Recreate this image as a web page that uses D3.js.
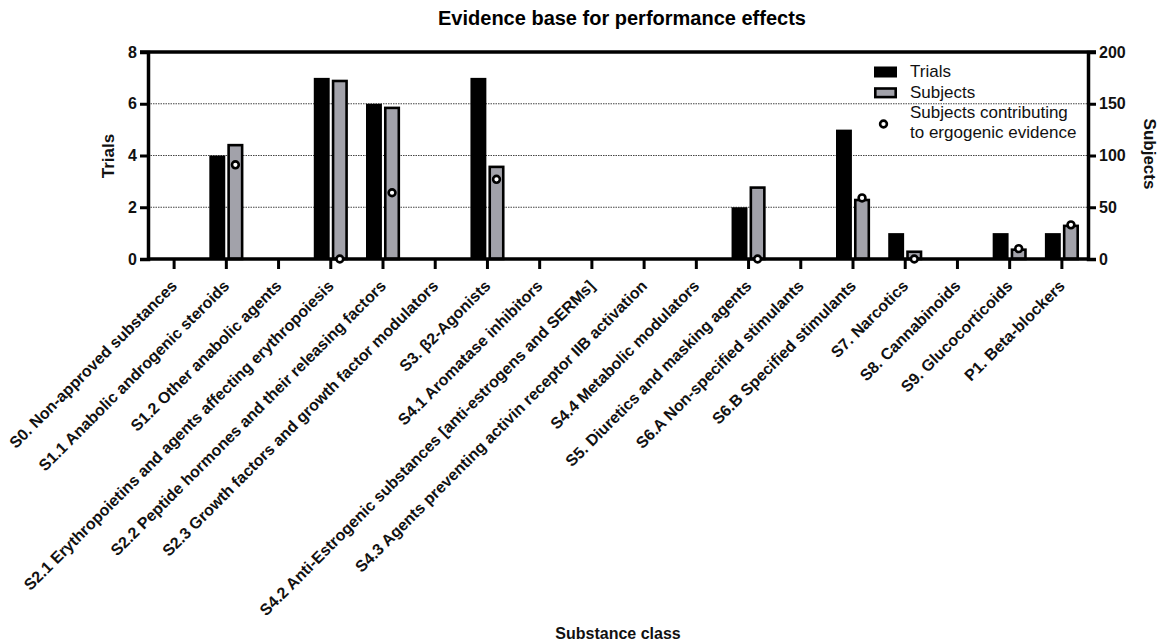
<!DOCTYPE html>
<html>
<head>
<meta charset="utf-8">
<script src="https://cdn.jsdelivr.net/npm/d3@7"></script>
<style>
  body { margin: 0; background: #fff; }
  svg { font-family: "Liberation Sans", Arial, sans-serif; }
</style>
</head>
<body>
<svg id="chart" width="1165" height="644"></svg>
<script>
// data
const categories = [
  "S0. Non-approved substances",
  "S1.1 Anabolic androgenic steroids",
  "S1.2 Other anabolic agents",
  "S2.1 Erythropoietins and agents affecting erythropoiesis",
  "S2.2 Peptide hormones and their releasing factors",
  "S2.3 Growth factors and growth factor modulators",
  "S3. \u03B22-Agonists",
  "S4.1 Aromatase inhibitors",
  "S4.2 Anti-Estrogenic substances [anti-estrogens and SERMs]",
  "S4.3 Agents preventing activin receptor IIB activation",
  "S4.4 Metabolic modulators",
  "S5. Diuretics and masking agents",
  "S6.A Non-specified stimulants",
  "S6.B Specified stimulants",
  "S7. Narcotics",
  "S8. Cannabinoids",
  "S9. Glucocorticoids",
  "P1. Beta-blockers"
];
const trials   = [0, 4, 0, 7, 6, 0, 7, 0, 0, 0, 0, 2, 0, 5, 1, 0, 1, 1];
const subjects = [0, 110, 0, 172, 146, 0, 89, 0, 0, 0, 0, 69, 0, 57, 7, 0, 9, 32];
// null = no dot drawn
const ergogenic = [null, 91, null, 0, 64, null, 77, null, null, null, null, 0, null, 59, 0, null, 10, 33];
const trialTicks = [0, 2, 4, 6, 8];
const subjectTicks = [0, 50, 100, 150, 200];
const series = ["Trials", "Subjects"];

const svg = d3.select("#chart");
const plotL = 148, plotR = 1088, plotT = 52, plotB = 259;

const x = d3.scaleBand().domain(categories).range([plotL, plotR]).padding(0);
const x1 = d3.scaleBand().domain(series).range([-17, 17]).paddingInner(0.12);
const yL = d3.scaleLinear().domain([0, 8]).range([plotB, plotT]);
const yR = d3.scaleLinear().domain([0, 200]).range([plotB, plotT]);
const cx = d => x(d) + x.bandwidth() / 2;

// title
svg.append("text").attr("x", 622).attr("y", 25).attr("text-anchor", "middle")
  .style("font-size", "20px").style("font-weight", "bold").text("Evidence base for performance effects");

// dotted gridlines
svg.append("g").selectAll("line").data(trialTicks.filter(t => t > 0 && t < 8)).enter().append("line")
  .attr("x1", plotL).attr("x2", plotR).attr("y1", d => yL(d)).attr("y2", d => yL(d))
  .attr("stroke", "#444").attr("stroke-width", 1).attr("stroke-dasharray", "1.5,1");

// bars
const g = svg.append("g");
categories.forEach((c, i) => {
  if (trials[i] > 0) {
    g.append("rect").attr("x", cx(c) + x1("Trials")).attr("width", x1.bandwidth())
      .attr("y", yL(trials[i])).attr("height", plotB - yL(trials[i])).attr("fill", "#000");
  }
  if (subjects[i] > 0) {
    g.append("rect").attr("x", cx(c) + x1("Subjects") + 1.2).attr("width", x1.bandwidth() - 2.4)
      .attr("y", yR(subjects[i])).attr("height", plotB - yR(subjects[i]))
      .attr("fill", "#a2a2aa").attr("stroke", "#000").attr("stroke-width", 2.6);
  }
});

// axes
const axL = svg.append("g").attr("transform", `translate(${plotL},0)`)
  .call(d3.axisLeft(yL).tickValues(trialTicks).tickSize(8).tickPadding(3));
const axR = svg.append("g").attr("transform", `translate(${plotR},0)`)
  .call(d3.axisRight(yR).tickValues(subjectTicks).tickSize(8).tickPadding(3));
const axB = svg.append("g").attr("transform", `translate(0,${plotB})`)
  .call(d3.axisBottom(x).tickSize(10).tickFormat(""));
[axL, axR, axB].forEach(a => {
  a.select(".domain").attr("stroke-width", 3.5).attr("stroke", "#000");
  a.selectAll(".tick line").attr("stroke-width", 3).attr("stroke", "#000");
  a.selectAll(".tick text").style("font-size", "16px").style("font-weight", "bold").attr("fill", "#111");
});
axB.select(".domain").attr("d", `M${plotL},0H${plotR}`);
svg.append("line").attr("x1", plotL - 8).attr("x2", plotR + 8).attr("y1", plotT).attr("y2", plotT)
  .attr("stroke", "#000").attr("stroke-width", 3.5);

// rotated category labels
svg.append("g").selectAll("text").data(categories).enter().append("text")
  .attr("transform", d => `translate(${cx(d) + 4},${plotB + 28}) rotate(-45)`)
  .attr("text-anchor", "end").style("font-size", "16px").style("font-weight", "bold").attr("fill", "#111")
  .text(d => d);

// dots
svg.append("g").selectAll("circle").data(categories.map((c, i) => ({ c, v: ergogenic[i] })).filter(d => d.v !== null))
  .enter().append("circle")
  .attr("cx", d => cx(d.c) + x1("Subjects") + x1.bandwidth() / 2).attr("cy", d => yR(d.v))
  .attr("r", 3.4).attr("fill", "#fff").attr("stroke", "#000").attr("stroke-width", 2.6);

// axis titles
svg.append("text").attr("transform", "translate(114,156) rotate(-90)").attr("text-anchor", "middle")
  .style("font-size", "17px").style("font-weight", "bold").attr("fill", "#111").text("Trials");
svg.append("text").attr("transform", "translate(1144,154) rotate(90)").attr("text-anchor", "middle")
  .style("font-size", "17px").style("font-weight", "bold").attr("fill", "#111").text("Subjects");
svg.append("text").attr("x", 618).attr("y", 639).attr("text-anchor", "middle")
  .style("font-size", "16px").style("font-weight", "bold").attr("fill", "#111").text("Substance class");

// legend
const lg = svg.append("g").style("font-size", "17px").attr("fill", "#111");
lg.append("rect").attr("x", 874).attr("y", 66.5).attr("width", 23).attr("height", 11).attr("fill", "#000");
lg.append("rect").attr("x", 875.3).attr("y", 88.5).attr("width", 20.4).attr("height", 8.6)
  .attr("fill", "#a2a2aa").attr("stroke", "#000").attr("stroke-width", 2.6);
lg.append("circle").attr("cx", 883.5).attr("cy", 124).attr("r", 3.4)
  .attr("fill", "#fff").attr("stroke", "#000").attr("stroke-width", 2.6);
lg.append("text").attr("x", 910).attr("y", 77).text("Trials");
lg.append("text").attr("x", 910).attr("y", 97.5).text("Subjects");
lg.append("text").attr("x", 910).attr("y", 118).text("Subjects contributing");
lg.append("text").attr("x", 910).attr("y", 137.5).text("to ergogenic evidence");
</script>
</body>
</html>
